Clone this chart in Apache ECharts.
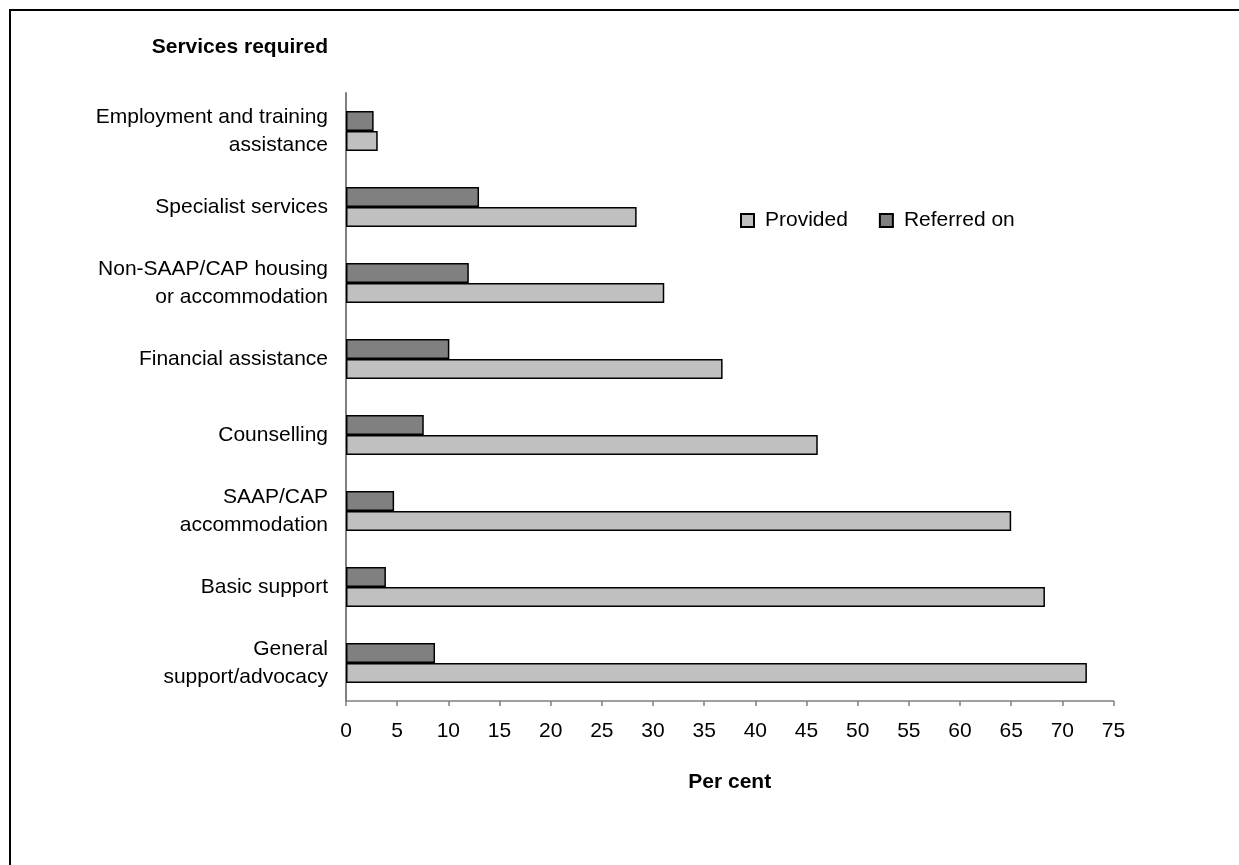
<!DOCTYPE html>
<html>
<head>
<meta charset="utf-8">
<script src="https://cdn.jsdelivr.net/npm/echarts@6/dist/echarts.min.js"></script>
<style>
  html, body { margin: 0; padding: 0; background: #ffffff; }
  #chart { width: 1239px; height: 865px; }
</style>
</head>
<body>
<div id="chart"></div>
<script>
// Services required by clients, and whether each was provided or referred on
const categories = [
  'Employment and training\nassistance',
  'Specialist services',
  'Non-SAAP/CAP housing\nor accommodation',
  'Financial assistance',
  'Counselling',
  'SAAP/CAP\naccommodation',
  'Basic support',
  'General\nsupport/advocacy'
];
const providedValues = [3.1, 28.4, 31.1, 36.8, 46.1, 65.0, 68.3, 72.4];
const referredValues = [2.7, 13.0, 12.0, 10.1, 7.6, 4.7, 3.9, 8.7];
const xTicks = { min: 0, max: 75, interval: 5 };

const FONT = 'Liberation Sans, Arial, Helvetica, sans-serif';
const FS = 21;

const chart = echarts.init(document.getElementById('chart'), null, { renderer: 'canvas' });

chart.setOption({
  backgroundColor: '#ffffff',
  animation: false,
  textStyle: { fontFamily: FONT, color: '#000000' },
  graphic: [
    {
      type: 'rect',
      shape: { x: 10, y: 10, width: 1400, height: 1000 },
      style: { fill: 'none', stroke: '#000000', lineWidth: 2 },
      silent: true
    },
    {
      type: 'text',
      x: 328,
      y: 47,
      style: {
        text: 'Services required',
        fontFamily: FONT,
        fontSize: FS,
        fontWeight: 'bold',
        fill: '#000000',
        textAlign: 'right',
        textVerticalAlign: 'middle'
      }
    }
  ],
  legend: {
    data: ['Provided', 'Referred on'],
    left: 740,
    top: 210,
    padding: 0,
    orient: 'horizontal',
    icon: 'rect',
    itemWidth: 13,
    itemHeight: 13,
    itemGap: 31,
    textStyle: { fontFamily: FONT, fontSize: FS, color: '#000000', padding: [0, 0, 0, 6] }
  },
  grid: {
    left: 346,
    right: 125.5,
    top: 93,
    bottom: 164,
    containLabel: false
  },
  xAxis: {
    type: 'value',
    min: xTicks.min,
    max: xTicks.max,
    interval: xTicks.interval,
    name: 'Per cent',
    nameLocation: 'middle',
    nameGap: 71,
    nameTextStyle: { fontFamily: FONT, fontSize: FS, fontWeight: 'bold', color: '#000000' },
    axisLine: { show: true, lineStyle: { color: '#808080', width: 1.5 } },
    axisTick: { show: true, length: 5, inside: false, lineStyle: { color: '#808080', width: 1.5 } },
    axisLabel: { fontFamily: FONT, fontSize: FS, color: '#000000', margin: 20 },
    splitLine: { show: false }
  },
  yAxis: {
    type: 'category',
    data: categories,
    inverse: true,
    axisLine: { show: true, lineStyle: { color: '#808080', width: 2 } },
    axisTick: { show: false },
    axisLabel: {
      fontFamily: FONT,
      fontSize: FS,
      color: '#000000',
      margin: 18,
      lineHeight: 28,
      align: 'right'
    },
    splitLine: { show: false }
  },
  series: [
    {
      name: 'Referred on',
      type: 'bar',
      data: referredValues,
      barWidth: 20,
      barGap: '0%',
      itemStyle: { color: '#808080', borderColor: '#000000', borderWidth: 1.5 }
    },
    {
      name: 'Provided',
      type: 'bar',
      data: providedValues,
      barWidth: 20,
      barGap: '0%',
      itemStyle: { color: '#c0c0c0', borderColor: '#000000', borderWidth: 1.5 }
    }
  ]
});
</script>
</body>
</html>
